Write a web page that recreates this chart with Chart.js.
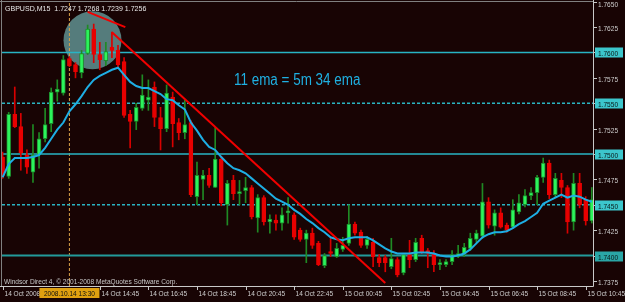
<!DOCTYPE html>
<html>
<head>
<meta charset="utf-8">
<script src="https://cdn.jsdelivr.net/npm/chart.js@4.4.0/dist/chart.umd.min.js"></script>
<style>
  html, body { margin: 0; padding: 0; background: #180404; }
  canvas { display: block; }
</style>
</head>
<body>
<canvas id="chart" width="625" height="302"></canvas>
<script>
// GBPUSD M15, one value per 15-minute bar, 14 Oct 2008 10:45 .. 15 Oct 2008 11:00
const opens = [
  1.7497, 1.7478, 1.7539, 1.7527, 1.7499, 1.7482, 1.7499, 1.7515, 1.7530, 1.7561,
  1.7560, 1.7594, 1.7588, 1.7580, 1.7599, 1.7623, 1.7598, 1.7592, 1.7605, 1.7602,
  1.7591, 1.7539, 1.7532, 1.7545, 1.7553, 1.7566, 1.7536, 1.7525, 1.7556, 1.7531,
  1.7521, 1.7531, 1.7458, 1.7475, 1.7479, 1.7467, 1.7495, 1.7450, 1.7474, 1.7461,
  1.7464, 1.7467, 1.7437, 1.7457, 1.7433, 1.7435, 1.7432, 1.7442, 1.7440, 1.7425,
  1.7416, 1.7422, 1.7412, 1.7390, 1.7403, 1.7399, 1.7406, 1.7412, 1.7431, 1.7423,
  1.7410, 1.7413, 1.7398, 1.7398, 1.7389, 1.7396, 1.7383, 1.7401, 1.7396, 1.7417,
  1.7405, 1.7402, 1.7391, 1.7391, 1.7394, 1.7399, 1.7401, 1.7407, 1.7416, 1.7419,
  1.7453, 1.7429, 1.7442, 1.7430, 1.7428, 1.7443, 1.7450, 1.7459, 1.7462, 1.7477,
  1.7491, 1.7460, 1.7474, 1.7467, 1.7433, 1.7471, 1.7455, 1.7434
];
const highs = [
  1.7502, 1.7541, 1.7566, 1.7540, 1.7504, 1.7529, 1.7521, 1.7545, 1.7565, 1.7573,
  1.7597, 1.7596, 1.7590, 1.7602, 1.7627, 1.7628, 1.7610, 1.7610, 1.7620, 1.7607,
  1.7595, 1.7543, 1.7550, 1.7578, 1.7573, 1.7571, 1.7546, 1.7568, 1.7561, 1.7535,
  1.7553, 1.7533, 1.7492, 1.7484, 1.7486, 1.7526, 1.7498, 1.7474, 1.7479, 1.7474,
  1.7477, 1.7469, 1.7460, 1.7459, 1.7440, 1.7440, 1.7447, 1.7457, 1.7442, 1.7427,
  1.7425, 1.7427, 1.7414, 1.7402, 1.7417, 1.7412, 1.7418, 1.7450, 1.7433, 1.7425,
  1.7419, 1.7417, 1.7401, 1.7400, 1.7417, 1.7398, 1.7402, 1.7415, 1.7417, 1.7420,
  1.7407, 1.7405, 1.7396, 1.7396, 1.7405, 1.7410, 1.7412, 1.7422, 1.7425, 1.7471,
  1.7457, 1.7445, 1.7447, 1.7432, 1.7455, 1.7460, 1.7465, 1.7467, 1.7479, 1.7496,
  1.7494, 1.7481, 1.7481, 1.7469, 1.7481, 1.7481, 1.7458, 1.7467
];
const lows = [
  1.7476, 1.7476, 1.7526, 1.7484, 1.7481, 1.7472, 1.7486, 1.7512, 1.7522, 1.7552,
  1.7558, 1.7586, 1.7575, 1.7575, 1.7598, 1.7590, 1.7583, 1.7587, 1.7595, 1.7585,
  1.7536, 1.7506, 1.7524, 1.7543, 1.7543, 1.7527, 1.7504, 1.7522, 1.7507, 1.7514,
  1.7515, 1.7458, 1.7450, 1.7455, 1.7467, 1.7467, 1.7449, 1.7430, 1.7455, 1.7450,
  1.7452, 1.7436, 1.7423, 1.7430, 1.7422, 1.7425, 1.7425, 1.7432, 1.7416, 1.7414,
  1.7393, 1.7407, 1.7390, 1.7388, 1.7399, 1.7398, 1.7404, 1.7410, 1.7420, 1.7408,
  1.7407, 1.7389, 1.7389, 1.7384, 1.7387, 1.7379, 1.7381, 1.7388, 1.7394, 1.7402,
  1.7388, 1.7384, 1.7386, 1.7389, 1.7391, 1.7398, 1.7399, 1.7405, 1.7413, 1.7417,
  1.7427, 1.7420, 1.7427, 1.7423, 1.7427, 1.7441, 1.7448, 1.7455, 1.7450, 1.7472,
  1.7456, 1.7458, 1.7457, 1.7422, 1.7425, 1.7447, 1.7430, 1.7432
];
const closes = [
  1.7479, 1.7539, 1.7527, 1.7501, 1.7487, 1.7499, 1.7515, 1.7529, 1.7561, 1.7564,
  1.7593, 1.7587, 1.7581, 1.7599, 1.7623, 1.7598, 1.7593, 1.7601, 1.7602, 1.7588,
  1.7538, 1.7532, 1.7546, 1.7558, 1.7556, 1.7536, 1.7525, 1.7560, 1.7530, 1.7521,
  1.7529, 1.7460, 1.7479, 1.7479, 1.7469, 1.7495, 1.7452, 1.7471, 1.7461, 1.7463,
  1.7467, 1.7438, 1.7457, 1.7433, 1.7436, 1.7432, 1.7440, 1.7444, 1.7418, 1.7416,
  1.7422, 1.7410, 1.7391, 1.7400, 1.7402, 1.7407, 1.7410, 1.7431, 1.7422, 1.7410,
  1.7416, 1.7399, 1.7393, 1.7393, 1.7397, 1.7381, 1.7401, 1.7396, 1.7413, 1.7403,
  1.7402, 1.7391, 1.7393, 1.7394, 1.7401, 1.7402, 1.7408, 1.7417, 1.7422, 1.7453,
  1.7430, 1.7442, 1.7428, 1.7425, 1.7445, 1.7452, 1.7459, 1.7462, 1.7477, 1.7491,
  1.7460, 1.7476, 1.7467, 1.7433, 1.7471, 1.7450, 1.7434, 1.7455
];
// 11 ema line as drawn on the chart
const ema = [
  1.7477, 1.7490, 1.7496, 1.7496, 1.7496, 1.7497, 1.7499, 1.7506, 1.7515, 1.7524,
  1.7531, 1.7542, 1.7549, 1.7557, 1.7566, 1.7573, 1.7577, 1.7580, 1.7583, 1.7585,
  1.7578, 1.7571, 1.7567, 1.7565, 1.7565, 1.7562, 1.7559, 1.7554, 1.7553, 1.7548,
  1.7544, 1.7531, 1.7523, 1.7514, 1.7507, 1.7504, 1.7497, 1.7491, 1.7486, 1.7484,
  1.7481, 1.7476, 1.7471, 1.7466, 1.7461, 1.7456, 1.7453, 1.7450, 1.7445, 1.7441,
  1.7436, 1.7432, 1.7427, 1.7423, 1.7418, 1.7416, 1.7415, 1.7417, 1.7418, 1.7418,
  1.7418, 1.7415, 1.7411, 1.7407, 1.7404, 1.7402, 1.7402, 1.7402, 1.7403, 1.7403,
  1.7403, 1.7402, 1.7400, 1.7399, 1.7399, 1.7400, 1.7402, 1.7406, 1.7412, 1.7418,
  1.7421, 1.7423, 1.7423, 1.7424, 1.7427, 1.7431, 1.7434, 1.7438, 1.7442, 1.7451,
  1.7454, 1.7457, 1.7460, 1.7457, 1.7459, 1.7458, 1.7455, 1.7453
];

// chart objects (bar index, price)
const trendMain = [[18.0, 1.7620], [63.0, 1.7373]];
const trendTop = [[14.0, 1.7640], [20.2, 1.7625]];
const circleAt = [14.8, 1.7612];
const solidLevels = [1.7600, 1.7500, 1.7400];
const dashedLevels = [1.7550, 1.7450];
const crossBar = 11;
const crossLabel = '2008.10.14 13:30';

// axes
const priceTicks = [1.7650, 1.7625, 1.7600, 1.7575, 1.7550, 1.7525, 1.7500, 1.7475, 1.7450, 1.7425, 1.7400, 1.7375];
const timeTickBars = [0, 16, 24, 32, 40, 48, 56, 64, 72, 80, 88, 96];
const timeLabels = ['14 Oct 2008', '14 Oct 14:45', '14 Oct 16:45', '14 Oct 18:45', '14 Oct 20:45', '14 Oct 22:45',
  '15 Oct 00:45', '15 Oct 02:45', '15 Oct 04:45', '15 Oct 06:45', '15 Oct 08:45', '15 Oct 10:45'];

const headerText = 'GBPUSD,M15  1.7247 1.7268 1.7239 1.7256';
const noteText = '11 ema = 5m 34 ema';
const footerText = 'Windsor Direct 4, \u00a9 2001-2008 MetaQuotes Software Corp.';

const X_MIN = -0.1, X_MAX = 97.2;
const Y_MIN = 1.7370, Y_MAX = 1.76507;

const idx = opens.map((_, i) => i);
const isUp = i => closes[i] >= opens[i];

function hline(v, color, dash, w) {
  return {
    type: 'line', order: 4,
    data: [{ x: X_MIN, y: v }, { x: X_MAX, y: v }],
    borderColor: color, borderWidth: w, borderDash: dash,
    pointRadius: 0
  };
}

function txt(c, s, x, y, align, color, size, sx, weight) {
  c.save();
  c.font = (weight || 'normal') + ' ' + size + 'px "Liberation Sans", Arial, sans-serif';
  c.fillStyle = color;
  c.textBaseline = 'alphabetic';
  c.textAlign = align;
  c.translate(x, y);
  c.scale(sx, 1);
  c.fillText(s, 0, 0);
  c.restore();
}

const mt4Frame = {
  id: 'mt4Frame',
  beforeDraw(chart) {
    const c = chart.ctx;
    c.save();
    c.fillStyle = '#180404';
    c.fillRect(0, 0, chart.width, chart.height);
    c.restore();
  },
  afterDraw(chart) {
    const c = chart.ctx;
    const { left, right, top, bottom } = chart.chartArea;
    const xs = chart.scales.x, ys = chart.scales.y;

    c.save();
    c.lineWidth = 1;
    c.strokeStyle = '#808080';
    c.beginPath();
    c.moveTo(0, 1.5); c.lineTo(right, 1.5);
    c.moveTo(1.5, 0); c.lineTo(1.5, bottom);
    c.stroke();
    c.strokeStyle = '#c8c8c8';
    c.beginPath();
    c.moveTo(right + 0.5, 0); c.lineTo(right + 0.5, bottom + 0.5);
    c.moveTo(0, bottom + 0.5); c.lineTo(right + 0.5, bottom + 0.5);
    c.stroke();

    // price axis
    priceTicks.forEach(v => {
      const y = Math.round(ys.getPixelForValue(v)) + 0.5;
      c.strokeStyle = '#c8c8c8';
      c.beginPath(); c.moveTo(right, y); c.lineTo(right + 4, y); c.stroke();
      const ty = Math.max(y, 4);
      const label = v.toFixed(4);
      const boxed = solidLevels.includes(v) || dashedLevels.includes(v);
      if (boxed) {
        c.fillStyle = v === 1.7400 ? '#2aa6a6' : '#3cc6cc';
        c.fillRect(right + 2, ty - 5, 28, 10);
        txt(c, label, right + 5, ty + 3, 'left', '#0a1818', 8, 0.82);
      } else {
        txt(c, label, right + 5, ty + 3, 'left', '#d0d0d0', 8, 0.82);
      }
    });

    // time axis
    timeTickBars.forEach((b, k) => {
      const x = Math.round(xs.getPixelForValue(b)) + 0.5;
      c.strokeStyle = '#c8c8c8';
      c.beginPath(); c.moveTo(x, bottom); c.lineTo(x, bottom + 4); c.stroke();
      txt(c, timeLabels[k], x + 1, bottom + 10, 'left', '#d0d0d0', 8, 0.82);
    });
    const cx = xs.getPixelForValue(crossBar);
    c.fillStyle = '#e0a010';
    c.fillRect(cx - 30, bottom + 2, 60, 10);
    txt(c, crossLabel, cx, bottom + 10, 'center', '#101010', 8, 0.82);

    // texts
    txt(c, headerText, 5, 11, 'left', '#e8e8e8', 8, 0.88);
    txt(c, noteText, xs.getPixelForValue(48.5), ys.getPixelForValue(1.7568), 'center', '#1fb0e2', 16, 0.84);
    txt(c, footerText, 4, bottom - 2, 'left', '#c8c8c8', 8, 0.82);
    c.restore();
  }
};

new Chart(document.getElementById('chart'), {
  type: 'bar',
  data: {
    datasets: [
      {
        type: 'line', order: 0,
        data: trendMain.map(p => ({ x: p[0], y: p[1] })),
        borderColor: '#f00000', borderWidth: 2, pointRadius: 0
      },
      {
        type: 'line', order: 0,
        data: trendTop.map(p => ({ x: p[0], y: p[1] })),
        borderColor: '#f00000', borderWidth: 2, pointRadius: 0
      },
      {
        type: 'line', order: 1,
        data: idx.map(i => ({ x: i, y: ema[i] })),
        borderColor: '#1eaee4', borderWidth: 2, pointRadius: 0, tension: 0
      },
      {
        // candle bodies
        order: 2, grouped: false,
        data: idx.map(i => ({ x: i, y: [opens[i], closes[i]] })),
        barThickness: 4, minBarLength: 2, borderSkipped: false, borderWidth: 1,
        backgroundColor: ctx => isUp(ctx.dataIndex) ? '#2cf45c' : '#e80000',
        borderColor: ctx => isUp(ctx.dataIndex) ? '#1c8c2c' : '#e80000'
      },
      {
        // wicks
        order: 3, grouped: false,
        data: idx.map(i => ({ x: i, y: [lows[i], highs[i]] })),
        barThickness: 1, borderWidth: 0,
        backgroundColor: ctx => isUp(ctx.dataIndex) ? '#1f8a24' : '#d80000'
      },
      ...solidLevels.map(v => hline(v, v === 1.7400 ? '#229a9a' : '#28b4c4', [], v === 1.7400 ? 2 : 1.5)),
      ...dashedLevels.map(v => hline(v, '#2ab4c2', [3, 2], 1.5)),
      {
        type: 'line', order: 4,
        data: [{ x: crossBar, y: Y_MIN }, { x: crossBar, y: Y_MAX }],
        borderColor: '#d8a048', borderWidth: 1, borderDash: [3, 2], pointRadius: 0
      },
      {
        type: 'bubble', order: 5,
        data: [{ x: circleAt[0], y: circleAt[1], r: 29 }],
        backgroundColor: '#557c7c', borderWidth: 0
      }
    ]
  },
  options: {
    responsive: false,
    animation: false,
    events: [],
    layout: { autoPadding: false, padding: { left: 2, right: 32, top: 1, bottom: 16 } },
    plugins: { legend: { display: false }, tooltip: { enabled: false } },
    scales: {
      x: { type: 'linear', min: X_MIN, max: X_MAX, offset: false, display: false },
      y: { min: Y_MIN, max: Y_MAX, display: false }
    }
  },
  plugins: [mt4Frame]
});
</script>
</body>
</html>
